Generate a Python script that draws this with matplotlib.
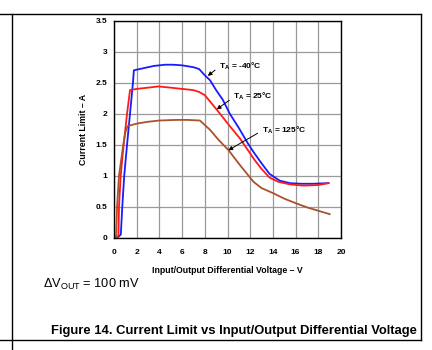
import matplotlib
matplotlib.use("Agg")
import matplotlib.pyplot as plt
from matplotlib.lines import Line2D

plt.rcParams['font.family'] = ['Liberation Sans', 'DejaVu Sans']
plt.rcParams['mathtext.fontset'] = 'custom'
plt.rcParams['mathtext.rm'] = 'Liberation Sans'
plt.rcParams['mathtext.bf'] = 'Liberation Sans:bold'

# curves (V, A)
x_m40 = [0, 0.3, 0.6, 0.73, 0.9, 1.15, 1.41, 1.67, 1.75, 2.5, 3.5, 4.5, 5.2, 6.0, 7.0, 7.5,
         8.0, 8.46, 9.0, 9.6, 10.2, 11.0, 11.8, 12.3, 13.0, 13.7, 14.6, 15.5, 16.5, 17.5, 18.9]
y_m40 = [0, 0, 0.05, 0.5, 1.0, 1.5, 2.0, 2.5, 2.7, 2.73, 2.77, 2.79, 2.79, 2.78, 2.75, 2.72,
         2.62, 2.54, 2.38, 2.22, 2.0, 1.77, 1.52, 1.38, 1.2, 1.03, 0.92, 0.88, 0.87, 0.87, 0.88]

x_25 = [0, 0.3, 0.4, 0.44, 0.59, 0.85, 1.15, 1.41, 2.0, 3.0, 3.9, 5.0, 6.0, 7.0, 7.5,
        8.0, 9.34, 10.2, 11.1, 12.4, 13.0, 13.7, 14.5, 15.5, 16.7, 18.0, 18.9]
y_25 = [0, 0, 0.05, 0.5, 1.0, 1.5, 2.0, 2.38, 2.40, 2.42, 2.44, 2.42, 2.40, 2.38, 2.35,
        2.30, 2.0, 1.80, 1.60, 1.25, 1.11, 0.97, 0.90, 0.86, 0.84, 0.85, 0.88]

x_125 = [0, 0.15, 0.2, 0.27, 0.44, 0.82, 1.0, 1.2, 2.0, 3.0, 4.0, 5.5, 6.5, 7.57, 8.46, 9.2,
         10.1, 11.1, 12.3, 13.0, 14.0, 15.0, 16.1, 17.0, 17.9, 19.0]
y_125 = [0, 0, 0.05, 0.5, 1.0, 1.5, 1.7, 1.8, 1.84, 1.87, 1.89, 1.90, 1.90, 1.89, 1.74, 1.58,
         1.41, 1.17, 0.90, 0.80, 0.72, 0.63, 0.55, 0.49, 0.44, 0.38]

labels = ['T$_\\mathbf{A}$ = -40°C', 'T$_\\mathbf{A}$ = 25°C', 'T$_\\mathbf{A}$ = 125°C']
label_pos = [(9.25, 2.77), (10.5, 2.28), (13.0, 1.74)]
arrow_tip = [(8.26, 2.61), (9.05, 2.07), (10.07, 1.41)]

fig = plt.figure(figsize=(4.32, 3.5), dpi=100)
ax = fig.add_axes([114/432, 1 - 237.7/350, 227/432, 217/350])

ax.plot(x_m40, y_m40, color='#1a1aff', lw=1.3)
ax.plot(x_25, y_25, color='#ff1a1a', lw=1.3)
ax.plot(x_125, y_125, color='#a9522b', lw=1.3)

for lab, pos, tip in zip(labels, label_pos, arrow_tip):
    ax.annotate(lab, xy=tip, xytext=pos, ha='left', va='center', fontsize=6, fontweight='bold',
                arrowprops=dict(arrowstyle='-|>', color='black', lw=0.7, mutation_scale=6,
                                relpos=(0, 0.4), shrinkA=1, shrinkB=0))

ax.set_xlim(0, 20)
ax.set_ylim(0, 3.5)
ax.set_xticks(range(0, 21, 2))
ax.set_yticks([0, 0.5, 1, 1.5, 2, 2.5, 3, 3.5])
ax.set_yticklabels(['0', '0.5', '1', '1.5', '2', '2.5', '3', '3.5'])
ax.grid(True, color='#9a9a9a', lw=0.9)
ax.set_axisbelow(True)
ax.tick_params(length=0, labelsize=6)
ax.tick_params(axis='x', pad=8)
ax.tick_params(axis='y', pad=5)
for t in ax.get_xticklabels() + ax.get_yticklabels():
    t.set_fontweight('bold')
for s in ax.spines.values():
    s.set_color('black')
    s.set_linewidth(1)
ax.set_xlabel('Input/Output Differential Voltage – V', fontsize=6.3, fontweight='bold', labelpad=7)
ax.set_ylabel('Current Limit – A', fontsize=6.3, fontweight='bold', labelpad=5)

fig.text(43/432, 1 - 284/350, 'ΔV$_\\mathregular{OUT}$ = 100 mV', fontsize=9.2, va='center', ha='left')
fig.text(417/432, 1 - 331/350, 'Figure 14. Current Limit vs Input/Output Differential Voltage',
         fontsize=9.4, fontweight='bold', ha='right', va='center')

# page frame
fig.add_artist(Line2D([0, 421/432], [1 - 14/350] * 2, transform=fig.transFigure, color='black', lw=1))
fig.add_artist(Line2D([0, 421/432], [1 - 340/350] * 2, transform=fig.transFigure, color='black', lw=1))
fig.add_artist(Line2D([12/432] * 2, [0, 1 - 14/350], transform=fig.transFigure, color='black', lw=1))
fig.add_artist(Line2D([421/432] * 2, [1 - 340/350, 1 - 14/350], transform=fig.transFigure, color='black', lw=1))

fig.savefig('out.png', dpi=100)
